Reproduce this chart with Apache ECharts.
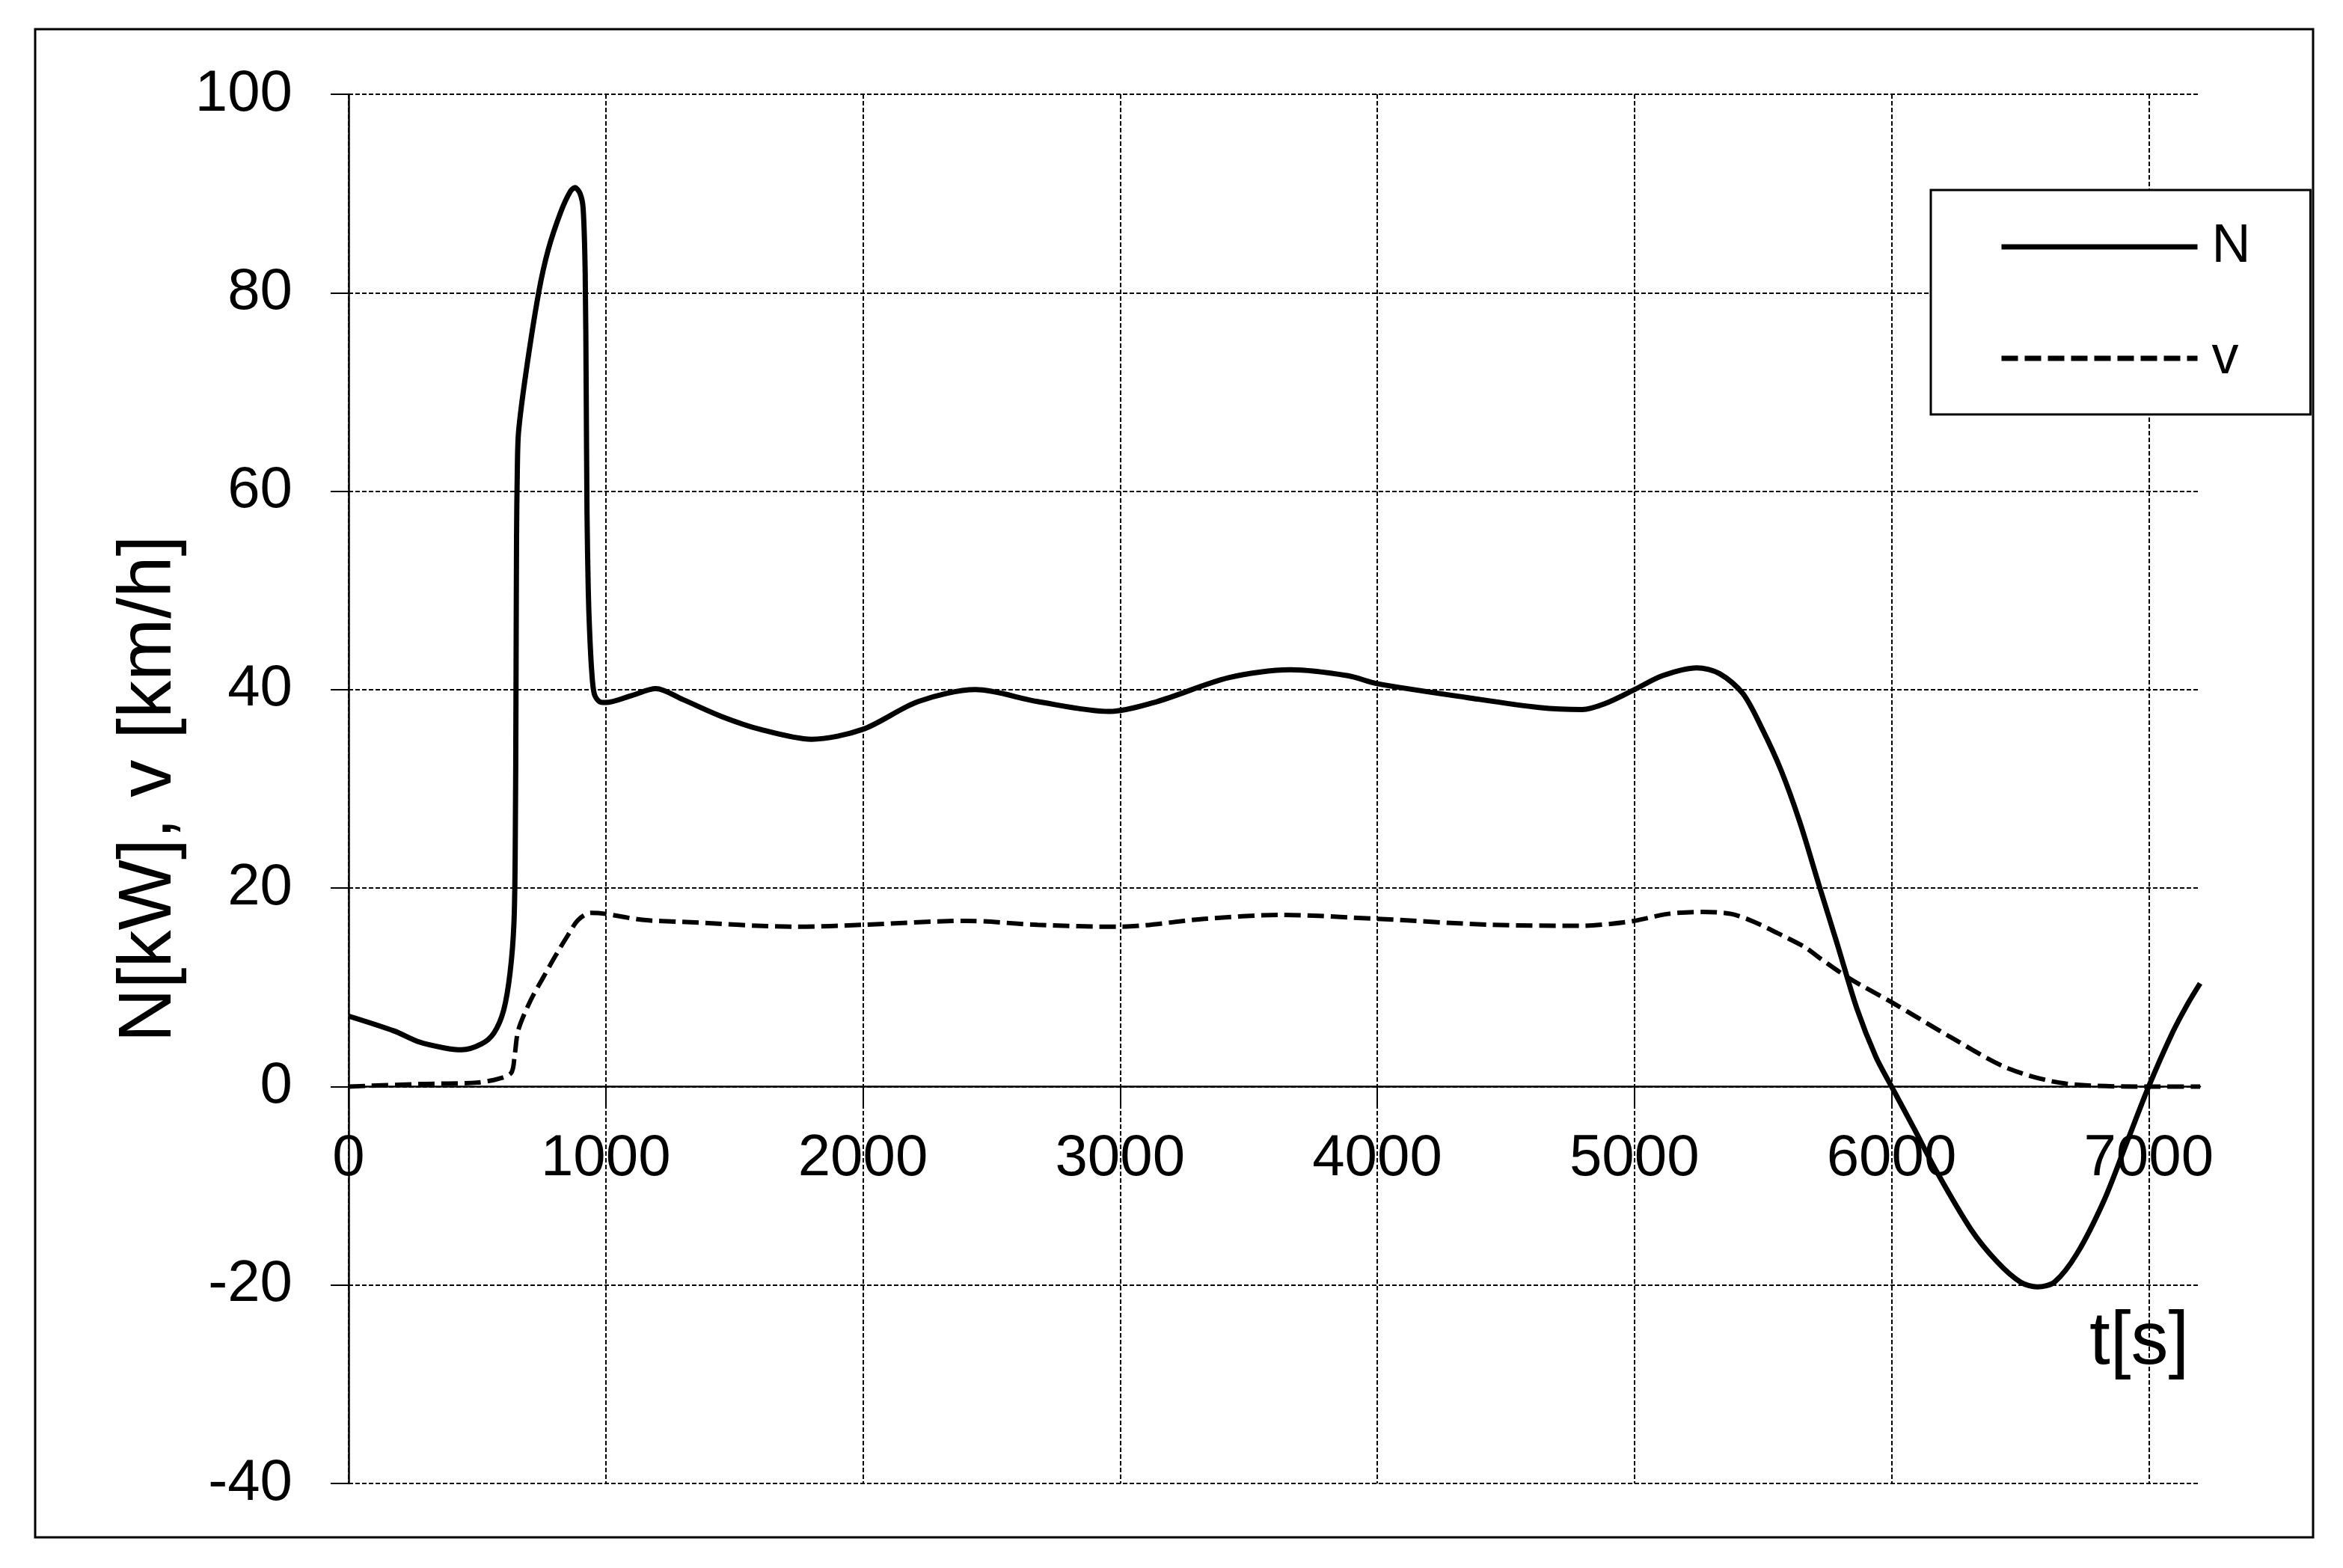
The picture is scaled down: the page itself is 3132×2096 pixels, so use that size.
<!DOCTYPE html>
<html>
<head>
<meta charset="utf-8">
<script src="https://cdn.jsdelivr.net/npm/echarts@6/dist/echarts.min.js"></script>
<style>
  html, body { margin: 0; padding: 0; background: #fff; }
  #chart { width: 3132px; height: 2096px; }
</style>
</head>
<body>
<div id="chart"></div>
<script>
// N [kW] over time t [s]
const tN = [0, 177, 274, 371, 439, 517, 565, 603, 628, 643, 648, 651, 653, 656, 661, 690, 739, 777, 826, 862,
  880, 900, 912, 920, 924, 927, 932, 937, 945, 955, 975, 1000, 1100, 1195, 1300, 1450, 1600, 1800, 2000, 2215,
  2438, 2679, 2958, 3144, 3422, 3663, 3886, 4000, 4350, 4630, 4797, 4886, 5000, 5109, 5243, 5332, 5422, 5496,
  5570, 5644, 5718, 5792, 5866, 5939, 6000, 6087, 6176, 6309, 6412, 6501, 6567, 6634, 6722, 6826, 6914,
  7000, 7092, 7151, 7200];
const nVals = [7.1, 5.6, 4.5, 3.9, 3.7, 4.3, 5.4, 7.7, 11.5, 16.5, 24, 40, 55, 62, 66, 72, 80, 84.4, 88.2, 90.2,
  90.6, 90.0, 88.5, 82, 70, 58, 50, 46, 42, 39.6, 38.8, 38.7, 39.4, 40.1, 39.0, 37.3, 36.0, 35.0, 36.0, 38.8,
  40.0, 38.8, 37.8, 38.8, 41.2, 42.0, 41.4, 40.6, 39.2, 38.2, 38.0, 38.6, 40.0, 41.4, 42.2, 41.6, 39.6, 36.1,
  31.9, 26.6, 20.3, 14.1, 7.8, 3.0, 0, -4.2, -8.6, -14.4, -17.7, -19.7, -20.2, -19.7, -16.8, -11.5, -5.7,
  0, 5.4, 8.3, 10.4];

// v [km/h] over time t [s]
const tV = [0, 274, 499, 585, 633, 646, 660, 708, 757, 805, 854, 893, 941, 1000, 1141, 1298, 1744, 2000, 2401,
  2679, 2994, 3328, 3626, 4000, 4444, 4797, 4908, 5000, 5131, 5265, 5376, 5465, 5577, 5666, 5718, 5836, 6000,
  6235, 6456, 6678, 7000, 7200];
const vVals = [0, 0.25, 0.4, 0.8, 1.4, 3.2, 5.7, 8.7, 11, 13.2, 15.3, 16.8, 17.5, 17.4, 16.8, 16.6, 16.1, 16.3, 16.7,
  16.3, 16.1, 16.9, 17.3, 16.9, 16.3, 16.2, 16.4, 16.7, 17.4, 17.6, 17.4, 16.6, 15.2, 14.0, 13.0, 10.9, 8.5,
  4.9, 1.8, 0.3, 0, 0];

const xTicks = [0, 1000, 2000, 3000, 4000, 5000, 6000, 7000];

const font = "'Liberation Sans', Arial, sans-serif";

const chart = echarts.init(document.getElementById('chart'));

const gridDash = { color: '#000', width: 2, type: [6, 3] };

chart.setOption({
  backgroundColor: '#fff',
  animation: false,
  grid: { left: 466, top: 126, right: 191, bottom: 113, containLabel: false },
  xAxis: {
    type: 'value',
    min: 0,
    max: 7200,
    interval: 1000,
    // x axis sits on the zero line, 531 px above the bottom of the grid
    offset: -531,
    axisLine: { onZero: false, lineStyle: { color: '#000', width: 2.5 } },
    axisTick: { show: true, length: 24, lineStyle: { color: '#000', width: 2 }, customValues: xTicks },
    axisLabel: {
      customValues: xTicks, color: '#000', fontSize: 78, fontFamily: font, margin: 58,
      formatter: v => String(v)
    },
    splitLine: { show: true, lineStyle: gridDash }
  },
  yAxis: {
    type: 'value',
    min: -40,
    max: 100,
    interval: 20,
    name: 'N[kW], v [km/h]',
    nameLocation: 'middle',
    nameGap: 215,
    nameTextStyle: { color: '#000', fontSize: 100, fontFamily: font },
    axisLine: { show: true, lineStyle: { color: '#000', width: 2.5 } },
    axisTick: { show: true, length: 24, lineStyle: { color: '#000', width: 2 } },
    axisLabel: { color: '#000', fontSize: 78, fontFamily: font, margin: 75 },
    splitLine: { show: true, lineStyle: gridDash }
  },
  legend: {
    orient: 'vertical',
    left: 2581,
    top: 254,
    padding: [36, 80, 35, 91],
    itemGap: 69,
    itemWidth: 262,
    itemHeight: 80,
    borderColor: '#000',
    borderWidth: 3,
    backgroundColor: '#fff',
    itemStyle: { opacity: 0 },
    lineStyle: { width: 7 },
    textStyle: { color: '#000', fontSize: 72, fontFamily: font, lineHeight: 80, padding: [0, 0, 0, 14] },
    data: ['N', 'v']
  },
  graphic: [
    {
      type: 'rect',
      shape: { x: 47, y: 39, width: 3045, height: 2016 },
      style: { fill: 'none', stroke: '#000', lineWidth: 3 },
      z: 100
    },
    {
      type: 'text',
      left: 2793,
      top: 1745,
      style: { text: 't[s]', fill: '#000', font: '100px ' + font },
      z: 100
    }
  ],
  series: [
    {
      name: 'N',
      type: 'line',
      data: tN.map((t, i) => [t, nVals[i]]),
      symbol: 'none',
      smooth: 0.3,
      lineStyle: { color: '#000', width: 7 },
      itemStyle: { color: '#000' },
      z: 5
    },
    {
      name: 'v',
      type: 'line',
      data: tV.map((t, i) => [t, vVals[i]]),
      symbol: 'none',
      smooth: 0.3,
      lineStyle: { color: '#000', width: 6, type: [22, 9] },
      itemStyle: { color: '#000' },
      z: 4
    }
  ]
});
</script>
</body>
</html>
